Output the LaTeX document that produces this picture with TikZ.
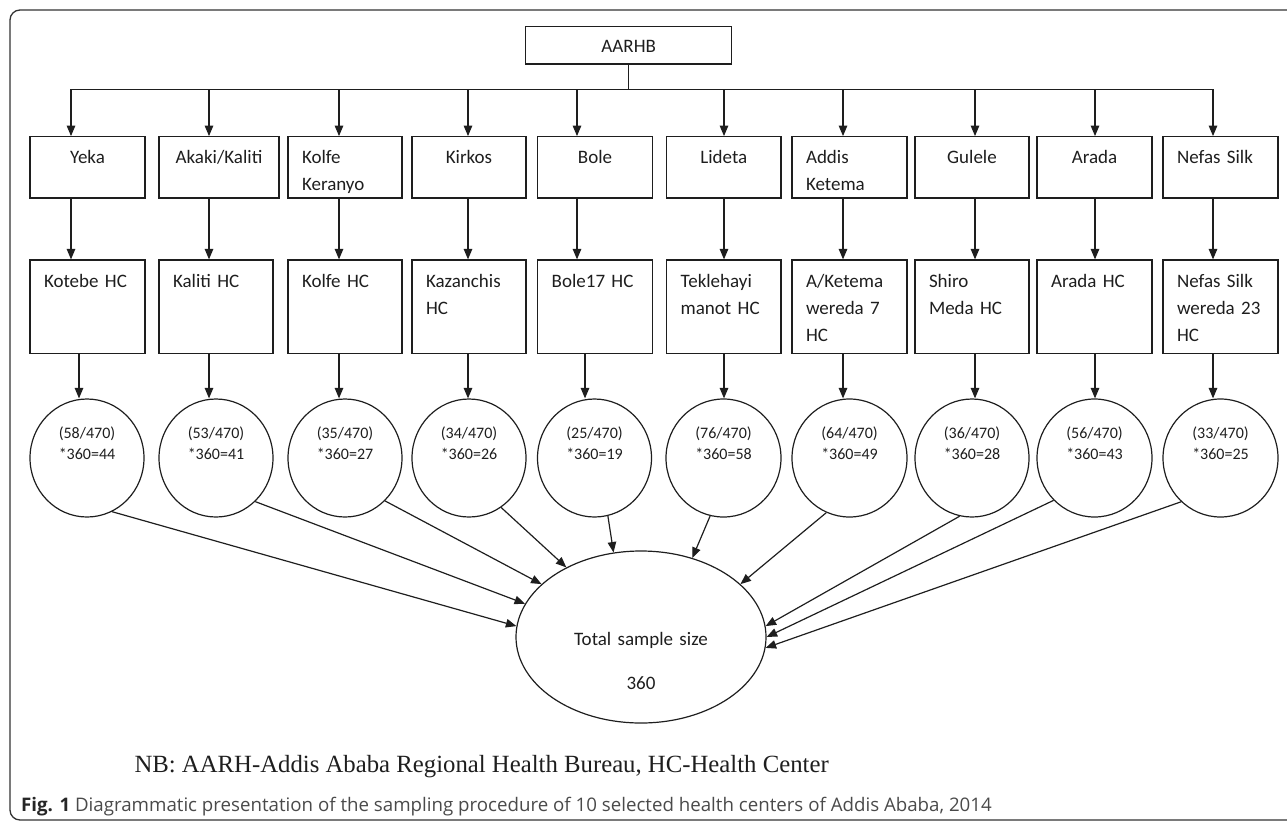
\documentclass[tikz,border=0pt]{standalone}
\usepackage{fontspec}
\setmainfont{Carlito}
\newfontfamily\nbfont{Liberation Serif}
\newfontfamily\capfont{Open Sans}
\usetikzlibrary{arrows.meta,shapes.geometric}
\definecolor{ink}{HTML}{1E1E1E}
\definecolor{capgray}{HTML}{4A4A4A}
\begin{document}
\begin{tikzpicture}[x=1pt,y=-1pt,
  line/.style={line width=1.2pt, draw=ink},
  arr/.style={line, -{Triangle[length=10.5pt,width=8.5pt]}},
  hbox/.style={draw=ink, line width=1.2pt, rectangle, inner xsep=14pt, inner ysep=0pt,
    font=\fontsize{19}{27}\selectfont, text=ink},
  lone/.style={hbox, text height=26.3pt, text depth=35pt},
  ltwo/.style={hbox, text height=27pt, text depth=66.3pt, align=left},
  share/.style={ellipse, draw=ink, line width=1.2pt, inner sep=0pt, minimum height=118pt,
    text width=62pt, align=center, font=\fontsize{16}{21.5}\selectfont, text=ink,
    text height=10pt, text depth=50pt}
]
\useasboundingbox (0,0) rectangle (1287,822);
\clip (0,0) rectangle (1287,822);
\draw[line width=1.3pt, draw=black!80, rounded corners=10pt] (10,10) rectangle (1310,820);

% top box
\node[hbox, minimum width=206pt, text height=25.6pt, text depth=11.7pt] (top) at (628.7,45.35) {AARHB};

% bus coordinates
\foreach \i/\x in {1/71,2/209,3/339,4/468,5/577,6/724,7/843,8/975,9/1095,10/1213}
  \coordinate (a\i) at (\x,89.3);
\foreach \i/\x in {1/79,2/209,3/339,4/468,5/585,6/724,7/843,8/975,9/1095,10/1213}
  \coordinate (q\i) at (\x,0);

% district boxes
\node[lone, text width=87pt, align=center] (d1) at (87.5,167.35) {Yeka};
\node[lone, text width=92pt, align=center] (d2) at (219,167.35) {Akaki/Kaliti};
\node[lone, text width=86pt, align=left] (d3) at (345,167.35) {Kolfe\\Keranyo};
\node[lone, text width=86pt, align=center] (d4) at (469,167.35) {Kirkos};
\node[lone, text width=86.6pt, align=center] (d5) at (595,167.35) {Bole};
\node[lone, text width=86.3pt, align=center] (d6) at (723.85,167.35) {Lideta};
\node[lone, text width=87pt, align=left] (d7) at (849.5,167.35) {Addis\\Ketema};
\node[lone, text width=86pt, align=center] (d8) at (972,167.35) {Gulele};
\node[lone, text width=87pt, align=center] (d9) at (1094.5,167.35) {Arada};
\node[lone, text width=87pt, align=left] (d10) at (1220.5,167.35) {Nefas Silk};

% health center boxes
\node[ltwo, text width=87pt] (h1) at (87.5,306.65) {Kotebe HC};
\node[ltwo, text width=86pt] (h2) at (216,306.65) {Kaliti HC};
\node[ltwo, text width=86pt] (h3) at (345,306.65) {Kolfe HC};
\node[ltwo, text width=86pt] (h4) at (469,306.65) {Kazanchis\\HC};
\node[ltwo, text width=86.6pt] (h5) at (595,306.65) {Bole17 HC};
\node[ltwo, text width=86.3pt] (h6) at (723.85,306.65) {Teklehayi\\manot HC};
\node[ltwo, text width=87pt] (h7) at (849.5,306.65) {A/Ketema\\wereda 7\\HC};
\node[ltwo, text width=86pt] (h8) at (972,306.65) {Shiro\\Meda HC};
\node[ltwo, text width=87pt] (h9) at (1094.5,306.65) {Arada HC};
\node[ltwo, text width=87pt] (h10) at (1220.5,306.65) {Nefas Silk\\wereda 23\\HC};

% sample share ellipses
\node[share, minimum width=114pt] (c1) at (87,458) {(58/470)\\{}*360=44};
\node[share, minimum width=114pt] (c2) at (216,458) {(53/470)\\{}*360=41};
\node[share, minimum width=114pt] (c3) at (345,458) {(35/470)\\{}*360=27};
\node[share, minimum width=114pt] (c4) at (469,458) {(34/470)\\{}*360=26};
\node[share, minimum width=114pt] (c5) at (594.5,458) {(25/470)\\{}*360=19};
\node[share, minimum width=115pt] (c6) at (723.5,458) {(76/470)\\{}*360=58};
\node[share, minimum width=115pt] (c7) at (849.5,458) {(64/470)\\{}*360=49};
\node[share, minimum width=114pt] (c8) at (972,458) {(36/470)\\{}*360=28};
\node[share, minimum width=115pt] (c9) at (1094.5,458) {(56/470)\\{}*360=43};
\node[share, minimum width=115pt] (c10) at (1220.5,458) {(33/470)\\{}*360=25};

% total
\node[ellipse, draw=ink, line width=1.2pt, inner sep=0pt, minimum width=250pt, minimum height=172pt,
  text width=140pt, align=center, font=\fontsize{19}{23}\selectfont, text=ink, text height=30pt, text depth=14pt]
  (tot) at (641,637) {Total sample size\\[21pt]360};

% connectors
\draw[line] (top.south) -- (top.south |- a1);
\draw[line] (a1) -- (a10);
\foreach \i in {1,...,10}{
  \draw[arr] (a\i) -- (a\i |- d\i.north);
  \draw[arr] (a\i |- d\i.south) -- (a\i |- h\i.north);
  \draw[arr] (q\i |- h\i.south) -- (q\i |- c\i.north);
}
\foreach \i/\s/\e in {1/-65.7/175,2/-48.6/164.2,3/-47/152.4,4/-57.6/137.5,5/-77.6/108.1,
  6/-103.9/57.7,7/-113.5/28.7,8/-102.1/5.9,9/-134.7/0,10/-132.3/-5.6}
  \draw[arr] (c\i.\s) -- (tot.\e);

% notes
\node[anchor=base west, inner sep=0pt, font=\nbfont\fontsize{24.75}{28}\selectfont, text=ink] (nb) at (134.3,772.5)
  {NB: AARH-Addis Ababa Regional Health Bureau, HC-Health Center};
\node[anchor=base west, inner sep=0pt, font=\capfont\fontsize{18.7}{21}\selectfont, text=capgray] (cap) at (21,811)
  {{\bfseries\color{black!85}Fig. 1} Diagrammatic presentation of the sampling procedure of 10 selected health centers of Addis Ababa, 2014};
\end{tikzpicture}
\end{document}
